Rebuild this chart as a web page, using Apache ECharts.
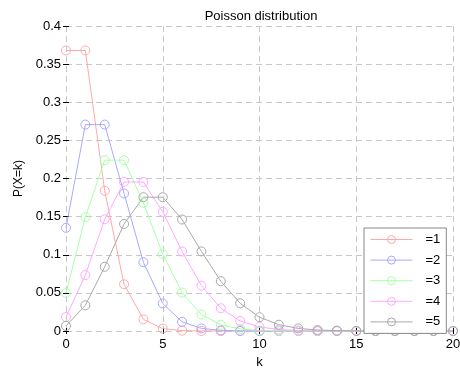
<!DOCTYPE html>
<html>
<head>
<meta charset="utf-8">
<script src="https://cdn.jsdelivr.net/npm/echarts@6/dist/echarts.min.js"></script>
<style>
  html, body { margin: 0; padding: 0; background: #fff; }
  #chart { width: 460px; height: 369px; }
</style>
</head>
<body>
<div id="chart"></div>
<script>
// k = 0..20
const ks = ['0','1','2','3','4','5','6','7','8','9','10','11','12','13','14','15','16','17','18','19','20']
const names = ['=1', '=2', '=3', '=4', '=5']
const colors = ['#ffa8a8', '#a8a8ff', '#a8ffa8', '#ffa8ff', '#a8a8a8']

// P(X=k)
const lam1 = [0.3679, 0.3679, 0.1839, 0.0613, 0.0153, 0.0031, 0.0005, 0.0001, 0, 0, 0, 0, 0, 0, 0, 0, 0, 0, 0, 0, 0]
const lam2 = [0.1353, 0.2707, 0.2707, 0.1804, 0.0902, 0.0361, 0.0120, 0.0034, 0.0009, 0.0002, 0, 0, 0, 0, 0, 0, 0, 0, 0, 0, 0]
const lam3 = [0.0498, 0.1494, 0.2240, 0.2240, 0.1680, 0.1008, 0.0504, 0.0216, 0.0081, 0.0027, 0.0008, 0.0002, 0.0001, 0, 0, 0, 0, 0, 0, 0, 0]
const lam4 = [0.0183, 0.0733, 0.1465, 0.1954, 0.1954, 0.1563, 0.1042, 0.0595, 0.0298, 0.0132, 0.0053, 0.0019, 0.0006, 0.0002, 0.0001, 0, 0, 0, 0, 0, 0]
const lam5 = [0.0067, 0.0337, 0.0842, 0.1404, 0.1755, 0.1755, 0.1462, 0.1044, 0.0653, 0.0363, 0.0181, 0.0082, 0.0034, 0.0013, 0.0005, 0.0002, 0.0001, 0, 0, 0, 0]

const xTicks = [0, 5, 10, 15, 20]

const font = 'Liberation Sans, Arial, sans-serif'
const seriesData = [lam1, lam2, lam3, lam4, lam5]

const chart = echarts.init(document.getElementById('chart'))

const gridLine = { show: true, lineStyle: { color: '#c8c8c8', type: [6, 4], width: 1 } }
const tick = { show: true, inside: true, length: 3, lineStyle: { color: '#000' } }

const option = {
  animation: false,
  textStyle: { fontFamily: font },
  title: {
    text: 'Poisson distribution',
    left: 256,
    top: 5,
    textAlign: 'center',
    textStyle: { fontSize: 13, fontWeight: 'normal', color: '#000', fontFamily: font },
  },
  grid: { left: 66, right: 7, top: 26, bottom: 38, containLabel: false, outerBoundsMode: 'none' },
  legend: {
    orient: 'vertical',
    left: 364,
    top: 228,
    width: 80,
    itemWidth: 42,
    itemHeight: 10,
    itemGap: 7.6,
    padding: [5, 6, 5, 6],
    borderColor: '#888',
    borderWidth: 1,
    borderRadius: 0,
    backgroundColor: '#fff',
    lineStyle: { width: 1 },
    itemStyle: { borderWidth: 1 },
    textStyle: { fontSize: 13, color: '#000', fontFamily: font, padding: [0, 0, 0, 8] },
    data: names,
  },
  xAxis: [
    {
      type: 'value',
      min: 0,
      max: 20,
      interval: 5,
      name: 'k',
      nameLocation: 'middle',
      nameGap: 23,
      nameTextStyle: { fontSize: 13, color: '#000' },
      axisLine: { show: false },
      axisTick: tick,
      axisLabel: { color: '#000', fontSize: 13, margin: 7, formatter: (v) => (xTicks.includes(v) ? String(v) : '') },
      splitLine: gridLine,
    },
    {
      type: 'value',
      position: 'top',
      min: 0,
      max: 20,
      interval: 5,
      axisLine: { show: false },
      axisTick: tick,
      axisLabel: { show: false },
      splitLine: { show: false },
    },
  ],
  yAxis: [
    {
      type: 'value',
      min: 0,
      max: 0.4,
      interval: 0.05,
      name: 'P(X=k)',
      nameLocation: 'middle',
      nameGap: 37,
      nameRotate: 90,
      nameTextStyle: { fontSize: 12, color: '#000' },
      axisLine: { show: false },
      axisTick: tick,
      axisLabel: { color: '#000', fontSize: 13, margin: 5, formatter: (v) => String(+v.toFixed(2)) },
      splitLine: gridLine,
    },
    {
      type: 'value',
      position: 'right',
      min: 0,
      max: 0.4,
      interval: 0.05,
      axisLine: { show: false },
      axisTick: tick,
      axisLabel: { show: false },
      splitLine: { show: false },
    },
  ],
  series: seriesData.map((d, i) => ({
    name: names[i],
    type: 'line',
    data: d.map((v, k) => [+ks[k], v]),
    symbol: 'circle',
    symbolSize: 9,
    showAllSymbol: true,
    clip: false,
    lineStyle: { color: colors[i], width: 1 },
    itemStyle: { color: 'rgba(0,0,0,0)', borderColor: colors[i], borderWidth: 1 },
    emphasis: { disabled: true },
  })),
}

chart.setOption(option)
</script>
</body>
</html>
